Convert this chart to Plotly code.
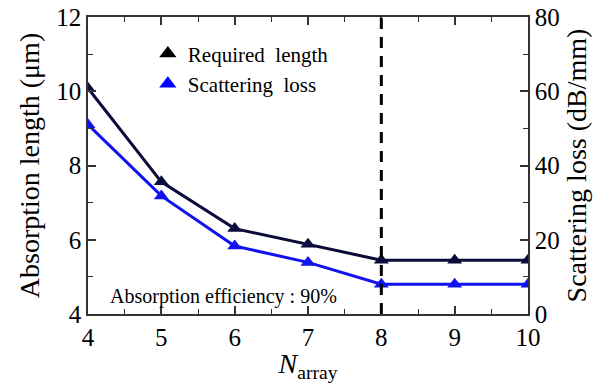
import plotly.graph_objects as go

n_array = [4, 5, 6, 7, 8, 9, 10]
required_length = [10.08, 7.56, 6.30, 5.88, 5.45, 5.45, 5.45]  # um, left axis
scattering_loss = [51.0, 31.8, 18.3, 13.9, 8.0, 8.0, 8.0]     # dB/mm, right axis
threshold_n = 8

FONT = "Liberation Serif"
DARK = "#0b0b3b"
BLUE = "#1212f0"
AX = "#333333"

fig = go.Figure()
fig.add_trace(go.Scatter(x=n_array, y=required_length, mode="lines+markers",
                         line=dict(color=DARK, width=3),
                         marker=dict(symbol="triangle-up", size=13, color=DARK),
                         showlegend=False, yaxis="y"))
fig.add_trace(go.Scatter(x=n_array, y=scattering_loss, mode="lines+markers",
                         line=dict(color=BLUE, width=3),
                         marker=dict(symbol="triangle-up", size=13, color=BLUE),
                         showlegend=False, yaxis="y2"))
# legend entries (markers only)
fig.add_trace(go.Scatter(x=[None], y=[None], mode="markers", name="Required  length",
                         marker=dict(symbol="triangle-up", size=15, color="black")))
fig.add_trace(go.Scatter(x=[None], y=[None], mode="markers", name="Scattering  loss",
                         marker=dict(symbol="triangle-up", size=15, color="#0000ff")))

fig.add_shape(type="line", x0=threshold_n, x1=threshold_n, xref="x", yref="paper",
              y0=0, y1=1, line=dict(color="black", width=3, dash="11px,8px"))

fig.add_annotation(text="Absorption efficiency : 90%", xref="paper", yref="paper",
                   x=0.045, y=0.06, xanchor="left", yanchor="middle", showarrow=False,
                   font=dict(family=FONT, size=20, color="black"))

tickfont = dict(family=FONT, size=25, color="black")
fig.update_layout(
    width=616, height=383,
    margin=dict(l=88, r=88, t=17, b=69, autoexpand=False),
    paper_bgcolor="white", plot_bgcolor="white",
    font=dict(family=FONT, color="black"),
    xaxis=dict(range=[4, 10], dtick=1, tick0=4, ticks="inside", ticklen=8, tickwidth=1.5,
               tickcolor=AX, showline=True, linecolor=AX, linewidth=1.5, mirror="ticks",
               showgrid=False, zeroline=False, tickfont=tickfont, automargin=False,
               minor=dict(dtick=0.5, ticks="inside", ticklen=5, tickwidth=1.2, tickcolor=AX),
               title=dict(text="<i>N</i><sub>array</sub>", font=dict(family=FONT, size=28),
                          standoff=5)),
    yaxis=dict(range=[4, 12], dtick=2, tick0=4, ticks="inside", ticklen=8, tickwidth=1.5,
               tickcolor=AX, showline=True, linecolor=AX, linewidth=1.5,
               showgrid=False, zeroline=False, tickfont=tickfont, automargin=False,
               minor=dict(dtick=1, ticks="inside", ticklen=5, tickwidth=1.2, tickcolor=AX),
               title=dict(text="Absorption length (μm)", font=dict(family=FONT, size=28),
                          standoff=8)),
    yaxis2=dict(range=[0, 80], dtick=20, tick0=0, ticks="inside", ticklen=8, tickwidth=1.5,
                tickcolor=AX, showline=True, linecolor=AX, linewidth=1.5,
                overlaying="y", side="right", anchor="x", automargin=False,
                showgrid=False, zeroline=False, tickfont=tickfont,
                minor=dict(dtick=10, ticks="inside", ticklen=5, tickwidth=1.2, tickcolor=AX),
                title=dict(text="Scattering loss (dB/mm)", font=dict(family=FONT, size=28),
                           standoff=8)),
    legend=dict(x=0.136, y=0.945, xanchor="left", yanchor="top", bgcolor="rgba(0,0,0,0)",
                font=dict(family=FONT, size=21, color="black"), tracegroupgap=0,
                itemwidth=30),
)

# remove the default 8px page margin so the figure fills the window
fig.write_html("out.html", config={"displayModeBar": False},
               post_script="document.body.style.margin='0';")
